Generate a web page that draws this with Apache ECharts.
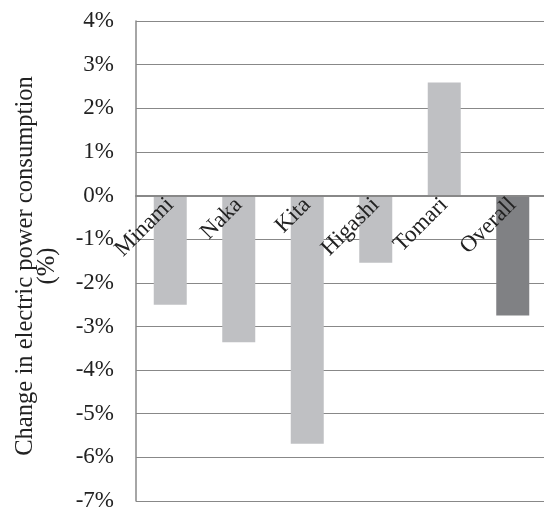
<!DOCTYPE html>
<html>
<head>
<meta charset="utf-8">
<script src="https://cdn.jsdelivr.net/npm/echarts@6/dist/echarts.min.js"></script>
<style>
  html, body { margin: 0; padding: 0; background: #fff; }
  #chart { width: 544px; height: 512px; }
</style>
</head>
<body>
<div id="chart"></div>
<script type="text/javascript">
// districts and their change in consumption (%)
var districts = ['Minami', 'Naka', 'Kita', 'Higashi', 'Tomari', 'Overall'];
var changePct = [-2.5, -3.36, -5.69, -1.54, 2.59, -2.75];
var barColors = ['#bfc0c3', '#bfc0c3', '#bfc0c3', '#bfc0c3', '#bfc0c3', '#808184'];

var yMin = -7, yMax = 4, yStep = 1;

var serif = 'Liberation Serif';
var gridTop = 21, gridBottom = 11, plotH = 512 - gridTop - gridBottom;
// move the category axis up to the 0% line (labels in v6 stay at the grid edge with onZero)
var zeroOffset = -plotH * (0 - yMin) / (yMax - yMin);

var myChart = echarts.init(document.getElementById('chart'));

var option = {
	backgroundColor: '#fff',
	animation: false,
	grid: { left: 136, top: gridTop, right: -3, bottom: gridBottom, outerBoundsMode: 'none', containLabel: false },
	xAxis: {
		type: 'category',
		data: districts,
		offset: zeroOffset,
		axisTick: { show: false },
		axisLine: { onZero: false, lineStyle: { color: '#888', width: 2 } },
		axisLabel: {
			interval: 0,
			rotate: 45,
			margin: 6,
			color: '#222',
			fontFamily: serif,
			fontSize: 23
		},
		z: 5
	},
	yAxis: {
		type: 'value',
		min: yMin,
		max: yMax,
		interval: yStep,
		name: 'Change in electric power consumption\n(%)',
		nameLocation: 'middle',
		nameGap: 77,
		nameTextStyle: {
			color: '#222',
			fontFamily: serif,
			fontSize: 24.6,
			lineHeight: 22,
			padding: [0, 10, 0, 0]
		},
		axisLine: { show: true, lineStyle: { color: '#888', width: 1.5 } },
		axisTick: { show: false },
		axisLabel: {
			formatter: '{value}%',
			margin: 22,
			color: '#222',
			fontFamily: serif,
			fontSize: 23
		},
		splitLine: { lineStyle: { color: '#888', width: 1.2 } }
	},
	series: [
		{
			type: 'bar',
			barWidth: 33,
			data: changePct.map(function (v, i) {
				return { value: v, itemStyle: { color: barColors[i] } };
			})
		}
	]
};
myChart.setOption(option);
</script>
</body>
</html>
